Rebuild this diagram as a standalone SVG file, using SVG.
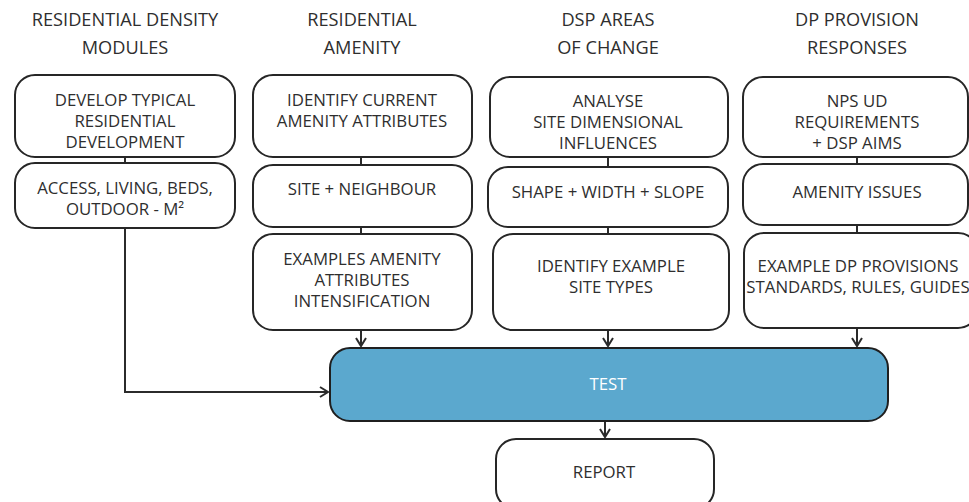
<svg xmlns="http://www.w3.org/2000/svg" width="969" height="502" viewBox="0 0 969 502">
<defs>
<style>
.box{fill:#fff;stroke:#262626;stroke-width:2}
.test{fill:#5ba8ce;stroke:#1f1f1f;stroke-width:2}
text{font-family:"Open Sans","Noto Sans",sans-serif;font-size:16.8px;fill:#2e2e2e;text-anchor:middle}
.hd{font-size:18.2px}
.wt{fill:#fff}
.ln{fill:none;stroke:#2b2b2b;stroke-width:2}
</style>
<marker id="ah" viewBox="0 0 12 12" refX="10" refY="6" markerWidth="12" markerHeight="12" markerUnits="userSpaceOnUse" orient="auto">
<path d="M2,1 L10,6 L2,11" fill="none" stroke="#2b2b2b" stroke-width="2"/>
</marker>
</defs>
<rect width="969" height="502" fill="#fff"/>
<g id="headers">
<text class="hd" x="125" y="26">RESIDENTIAL DENSITY</text>
<text class="hd" x="125" y="54">MODULES</text>
<text class="hd" x="362" y="26">RESIDENTIAL</text>
<text class="hd" x="362" y="54">AMENITY</text>
<text class="hd" x="608" y="26">DSP AREAS</text>
<text class="hd" x="608" y="54">OF CHANGE</text>
<text class="hd" x="857" y="26">DP PROVISION</text>
<text class="hd" x="857" y="54">RESPONSES</text>
</g>
<g id="connectors">
<path class="ln" d="M125,157 V163"/>
<path class="ln" d="M125,228 V392 H328" marker-end="url(#ah)"/>
<path class="ln" d="M361,157 V165"/>
<path class="ln" d="M361,227 V234"/>
<path class="ln" d="M361,330 V346" marker-end="url(#ah)"/>
<path class="ln" d="M608,157 V167"/>
<path class="ln" d="M608,227 V234"/>
<path class="ln" d="M608,330 V346" marker-end="url(#ah)"/>
<path class="ln" d="M857,157 V164"/>
<path class="ln" d="M857,225 V233"/>
<path class="ln" d="M857,328 V346" marker-end="url(#ah)"/>
<path class="ln" d="M605,421 V437" marker-end="url(#ah)"/>
</g>
<g id="n1a"><rect class="box" x="15" y="75" width="220" height="82" rx="20"/>
<text x="125" y="106">DEVELOP TYPICAL</text><text x="125" y="127">RESIDENTIAL</text><text x="125" y="148">DEVELOPMENT</text></g>
<g id="n1b"><rect class="box" x="15" y="163" width="220" height="65" rx="20"/>
<text x="125" y="194">ACCESS, LIVING, BEDS,</text><text x="125" y="215">OUTDOOR - M²</text></g>
<g id="n2a"><rect class="box" x="253" y="75" width="219" height="82" rx="20"/>
<text x="362" y="106">IDENTIFY CURRENT</text><text x="362" y="127">AMENITY ATTRIBUTES</text></g>
<g id="n2b"><rect class="box" x="253" y="165" width="219" height="62" rx="20"/>
<text x="362" y="195">SITE + NEIGHBOUR</text></g>
<g id="n2c"><rect class="box" x="253" y="234" width="219" height="96" rx="20"/>
<text x="362" y="265">EXAMPLES AMENITY</text><text x="362" y="286">ATTRIBUTES</text><text x="362" y="307">INTENSIFICATION</text></g>
<g id="n3a"><rect class="box" x="490" y="77" width="238" height="80" rx="20"/>
<text x="608" y="107">ANALYSE</text><text x="608" y="128">SITE DIMENSIONAL</text><text x="608" y="149">INFLUENCES</text></g>
<g id="n3b"><rect class="box" x="488" y="167" width="240" height="60" rx="20"/>
<text x="608" y="198">SHAPE + WIDTH + SLOPE</text></g>
<g id="n3c"><rect class="box" x="493" y="234" width="236" height="96" rx="20"/>
<text x="611" y="272">IDENTIFY EXAMPLE</text><text x="611" y="293">SITE TYPES</text></g>
<g id="n4a"><rect class="box" x="743" y="77" width="225" height="80" rx="20"/>
<text x="857" y="107">NPS UD</text><text x="857" y="128">REQUIREMENTS</text><text x="857" y="149">+ DSP AIMS</text></g>
<g id="n4b"><rect class="box" x="743" y="164" width="225" height="61" rx="20"/>
<text x="857" y="198">AMENITY ISSUES</text></g>
<g id="n4c"><rect class="box" x="744" y="233" width="234" height="95" rx="20"/>
<text x="858" y="272">EXAMPLE DP PROVISIONS</text><text x="858" y="293">STANDARDS, RULES, GUIDES</text></g>
<g id="test"><rect class="test" x="330" y="348" width="558" height="73" rx="20"/>
<text class="wt" x="608" y="390">TEST</text></g>
<g id="report"><rect class="box" x="496" y="439" width="218" height="70" rx="20"/>
<text x="604" y="478">REPORT</text></g>
</svg>
